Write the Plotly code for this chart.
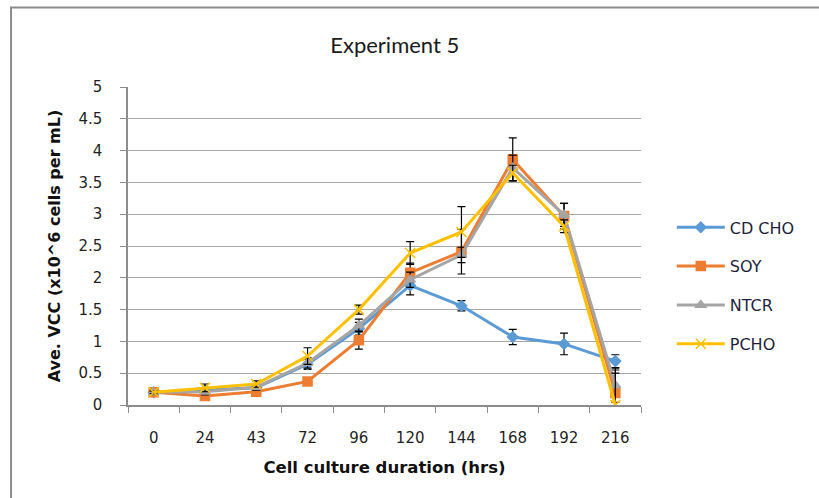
import plotly.graph_objects as go

# Data (values in x10^6 cells per mL)
hours = ["0", "24", "43", "72", "96", "120", "144", "168", "192", "216"]

cd_cho = [0.20, 0.23, 0.27, 0.64, 1.20, 1.88, 1.56, 1.07, 0.96, 0.69]
soy = [0.20, 0.14, 0.21, 0.37, 1.02, 2.08, 2.41, 3.86, 2.97, 0.19]
ntcr = [0.20, 0.21, 0.28, 0.66, 1.25, 1.97, 2.36, 3.73, 2.99, 0.31]
pcho = [0.20, 0.27, 0.33, 0.77, 1.50, 2.39, 2.72, 3.65, 2.81, 0.00]

cd_cho_err = [0.02, 0.03, 0.03, 0.08, 0.10, 0.15, 0.08, 0.12, 0.17, 0.10]
soy_err = [0.02, 0.04, 0.03, 0.05, 0.14, 0.15, 0.35, 0.34, 0.20, 0.36]
ntcr_err = [0.02, 0.05, 0.05, 0.08, 0.10, 0.12, 0.12, 0.20, 0.18, 0.27]
pcho_err = [0.02, 0.06, 0.05, 0.13, 0.07, 0.18, 0.40, 0.12, 0.10, 0.50]

series = [
    ("CD CHO", cd_cho, cd_cho_err, "#5b9bd5", "diamond", 8),
    ("SOY", soy, soy_err, "#ed7d31", "square", 9),
    ("NTCR", ntcr, ntcr_err, "#a5a5a5", "triangle-up", 9),
    ("PCHO", pcho, pcho_err, "#ffc000", "x-thin-open", 10),
]

fig = go.Figure()

for i, (name, vals, errs, color, symbol, size) in enumerate(series):
    fig.add_trace(go.Scatter(
        x=hours,
        y=vals,
        name=name,
        legendgroup=str(i),
        mode='lines+markers',
        line=dict(color=color, width=3),
        marker=dict(symbol=symbol, size=size, color=color,
                    line=dict(color=color, width=1.5)),
        error_y=dict(type='data', array=errs, visible=True,
                     color='black', thickness=1.2, width=4),
    ))

# light grey frame around the whole chart (like the Excel chart area)
fig.add_shape(type='rect', xref='paper', yref='paper',
              x0=-0.228, x1=1.5, y0=-0.5, y1=1.25,
              line=dict(color='#8c8c8c', width=2), layer='below')

fig.update_layout(
    width=819,
    height=498,
    margin=dict(l=128, r=178, t=87, b=93),
    paper_bgcolor='white',
    plot_bgcolor='white',
    title=dict(text='Experiment 5', x=0.52, xref='paper', xanchor='center',
               y=0.91, yanchor='middle',
               font=dict(family='Lato', size=22, color='#1a1a1a')),
    showlegend=True,
    legend=dict(x=1.06, y=0.612, xanchor='left', yanchor='top',
                itemwidth=48,
                font=dict(family='DejaVu Sans', size=16, color='#1f1f3a'),
                tracegroupgap=15, bgcolor='rgba(0,0,0,0)'),
    font=dict(family='DejaVu Sans', color='#1f1f1f'),
)

fig.update_xaxes(
    type='category',
    range=[-0.5, 9.5],
    tickson='boundaries',
    ticks='outside', ticklen=6, tickcolor='#8c8c8c',
    showline=True, linecolor='#8c8c8c', linewidth=1.5,
    showgrid=False,
    tickfont=dict(family='DejaVu Sans', size=15, color='#1f1f1f'),
    ticklabelstandoff=18,
    title=dict(text='<b>Cell culture duration (hrs)</b>', standoff=16,
               font=dict(family='DejaVu Sans', size=16.5, color='#111')),
)

fig.update_yaxes(
    range=[0, 5], dtick=0.5,
    ticks='outside', ticklen=6, tickcolor='#8c8c8c',
    showline=True, linecolor='#8c8c8c', linewidth=1.5,
    showgrid=True, gridcolor='#a6a6a6', gridwidth=1.2,
    zeroline=False,
    tickfont=dict(family='DejaVu Sans', size=15, color='#1f1f1f'),
    ticklabelstandoff=15,
    title=dict(text='<b>Ave. VCC (x10^6 cells per mL)</b>', standoff=14,
               font=dict(family='DejaVu Sans', size=16, color='#111')),
)

# drop the browser's default body margin so the figure sits at the page corner
fig.write_html("out.html", config={'displayModeBar': False},
               post_script="document.body.style.margin='0';")
